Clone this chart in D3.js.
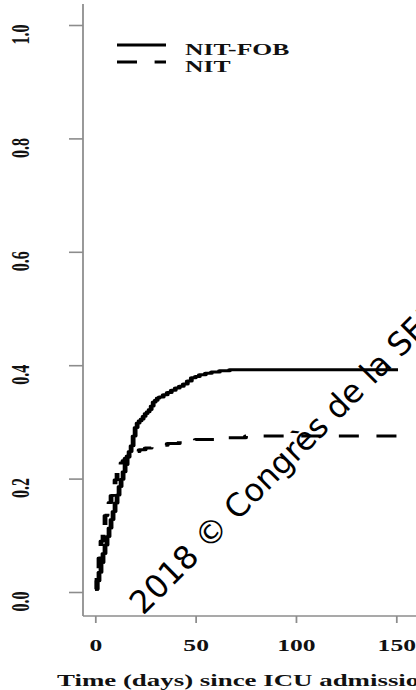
<!DOCTYPE html>
<html>
<head>
<meta charset="utf-8">
<script src="https://cdn.jsdelivr.net/npm/d3@7"></script>
<style>
  html, body { margin: 0; padding: 0; background: #fff; overflow: hidden; }
  svg { display: block; }
</style>
</head>
<body>
<svg id="chart" width="416" height="690"></svg>
<script>
// Cumulative incidence, NIT-FOB group (time in days, probability)
const nitFobDays = [0, 1, 2, 3, 4, 5, 6, 7, 8, 9, 10, 11, 12, 13, 14, 15, 16, 17, 18, 19, 20, 21, 22, 23, 24, 25, 26, 27, 28, 29, 30, 31, 32, 34, 36, 38, 40, 42, 44, 46, 48, 50, 52, 55, 58, 62, 67, 151];
const nitFobRisk = [0.005, 0.02, 0.035, 0.052, 0.068, 0.083, 0.098, 0.113, 0.128, 0.142, 0.157, 0.171, 0.186, 0.199, 0.212, 0.225, 0.238, 0.248, 0.258, 0.275, 0.29, 0.298, 0.302, 0.305, 0.31, 0.315, 0.318, 0.322, 0.328, 0.335, 0.338, 0.342, 0.344, 0.348, 0.352, 0.356, 0.36, 0.363, 0.367, 0.372, 0.378, 0.38, 0.383, 0.386, 0.388, 0.39, 0.392, 0.392];

// Cumulative incidence, NIT group
const nitDays = [0, 1, 2, 3, 4, 5, 6, 7, 8, 9, 10, 11, 12, 13, 14, 15, 16, 18, 20, 22, 25, 28, 32, 36, 42, 50, 60, 75, 158];
const nitRisk = [0.005, 0.025, 0.06, 0.09, 0.115, 0.135, 0.148, 0.158, 0.17, 0.185, 0.198, 0.21, 0.222, 0.228, 0.232, 0.236, 0.24, 0.245, 0.248, 0.251, 0.254, 0.256, 0.259, 0.262, 0.266, 0.269, 0.272, 0.275, 0.275];

const xTickValues = [0, 50, 100, 150];
const yTickValues = [0, 0.2, 0.4, 0.6, 0.8, 1.0];
const seriesNames = ["NIT-FOB", "NIT"];
const xTitle = "Time (days) since ICU admission";
const watermark = "2018 \u00A9 Congr\u00E8s de la SFAR";

// The plot is drawn in a horizontally stretched frame
const SX = 1.6;
const serif = "'Liberation Serif', 'Times New Roman', serif";
const ink = "#111";
const axisGrey = "#8c8c8c";

const svg = d3.select("#chart");
const g = svg.append("g").attr("transform", `scale(${SX},1)`);

const x = d3.scaleLinear().domain([0, 150]).range([95 / SX, 396 / SX]);
const y = d3.scaleLinear().domain([0, 1]).range([592, 25]);

const axisX = 83 / SX;   // left edge of the L-shaped frame
const axisY = 616;       // bottom edge of the frame

// Frame lines (bty = "l")
g.append("line")
  .attr("x1", axisX).attr("x2", axisX)
  .attr("y1", 4).attr("y2", axisY)
  .attr("stroke", axisGrey).attr("stroke-width", 1.1);
g.append("line")
  .attr("x1", axisX).attr("x2", 420 / SX)
  .attr("y1", axisY).attr("y2", axisY)
  .attr("stroke", axisGrey).attr("stroke-width", 1.6);

// Y axis ticks and rotated labels
const yAxis = g.append("g")
  .attr("transform", `translate(${axisX},0)`)
  .call(d3.axisLeft(y).tickValues(yTickValues).tickSize(14 / SX).tickFormat(d3.format(".1f")));
yAxis.select(".domain").remove();
yAxis.selectAll(".tick line").attr("stroke", axisGrey).attr("stroke-width", 1.6);
yAxis.selectAll(".tick text")
  .attr("x", null).attr("dy", null)
  .attr("transform", `translate(${(21 - 83) / SX},9) rotate(-90)`)
  .attr("text-anchor", "middle")
  .attr("dominant-baseline", "central")
  .attr("font-family", serif).attr("font-weight", "bold").attr("font-size", 16)
  .attr("fill", ink);

// X axis ticks and labels
const xAxis = g.append("g")
  .attr("transform", `translate(0,${axisY})`)
  .call(d3.axisBottom(x).tickValues(xTickValues).tickSize(7).tickFormat(d3.format("d")));
xAxis.select(".domain").remove();
xAxis.selectAll(".tick line").attr("stroke", axisGrey).attr("stroke-width", 1.1);
xAxis.selectAll(".tick text")
  .attr("y", 651 - axisY).attr("dy", null)
  .attr("font-family", serif).attr("font-weight", "bold").attr("font-size", 16)
  .attr("fill", ink);

// X axis title
g.append("text")
  .attr("x", 57 / SX).attr("y", 686)
  .attr("font-family", serif).attr("font-weight", "bold").attr("font-size", 16.8)
  .attr("fill", ink)
  .text(xTitle);

// Step curves
const stepLine = d3.line()
  .x(d => x(d[0]))
  .y(d => y(d[1]))
  .curve(d3.curveStepAfter);

const series = [
  { name: seriesNames[0], pts: d3.zip(nitFobDays, nitFobRisk), dash: null },
  { name: seriesNames[1], pts: d3.zip(nitDays, nitRisk), dash: "12.5,11" }
];

g.selectAll("path.curve")
  .data(series)
  .join("path")
  .attr("class", "curve")
  .attr("d", d => stepLine(d.pts))
  .attr("fill", "none")
  .attr("stroke", "#000")
  .attr("stroke-width", 3)
  .attr("stroke-linejoin", "round")
  .attr("stroke-dasharray", d => d.dash);

// Legend
const legend = g.append("g");
series.forEach((s, i) => {
  const ly = 45 + i * 17;
  legend.append("line")
    .attr("x1", 117 / SX).attr("x2", 166 / SX)
    .attr("y1", ly).attr("y2", ly)
    .attr("stroke", "#000").attr("stroke-width", 3)
    .attr("stroke-dasharray", s.dash);
  legend.append("text")
    .attr("x", 185 / SX).attr("y", ly + 10)
    .attr("font-family", serif).attr("font-weight", "bold").attr("font-size", 16)
    .attr("fill", ink)
    .text(s.name);
});

// Copyright overlay
svg.append("text")
  .attr("transform", "translate(143,616) rotate(-45)")
  .attr("font-family", "'DejaVu Sans', sans-serif")
  .attr("font-size", 32)
  .attr("fill", "#000")
  .text(watermark);
</script>
</body>
</html>
